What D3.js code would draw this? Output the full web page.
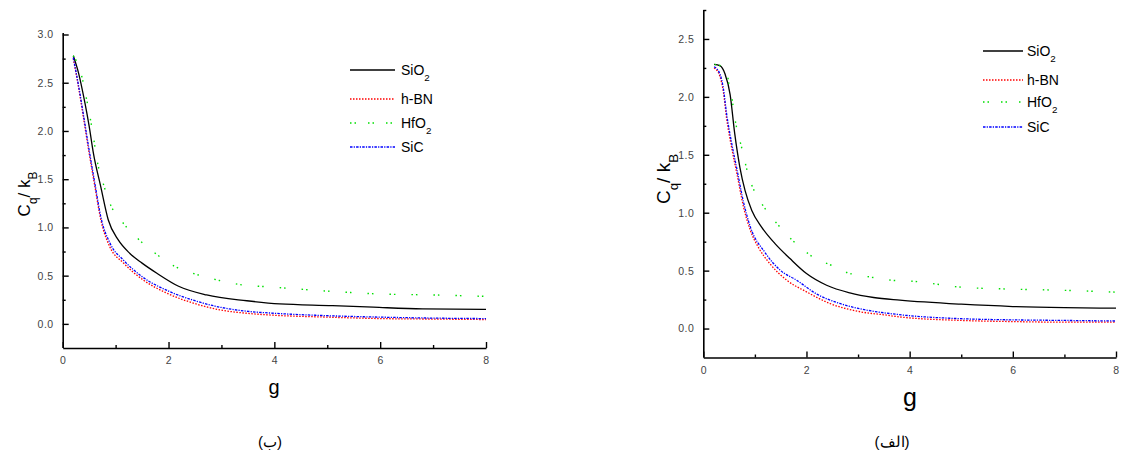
<!DOCTYPE html>
<html>
<head>
<meta charset="utf-8">
<script src="https://cdn.jsdelivr.net/npm/d3@7"></script>
<style>
  html, body { margin: 0; padding: 0; background: #fff; }
  svg { display: block; }
  text { font-family: "Liberation Sans", Arial, sans-serif; }
</style>
</head>
<body>
<svg id="chart" width="1121" height="457"></svg>
<script>
// ---------- DATA ----------
const seriesNames = ["SiO2", "h-BN", "HfO2", "SiC"];
const xTicksMajor = [0, 2, 4, 6, 8];
const xTicksMinor = [1, 3, 5, 7];
const yTicksLeft = [0.0, 0.5, 1.0, 1.5, 2.0, 2.5, 3.0];
const yTicksRight = [0.0, 0.5, 1.0, 1.5, 2.0, 2.5];
const captions = ["(ب)", "(الف)"];

// Left panel (ب)
const leftSiO2 = [[0.2,2.78],[0.3,2.6],[0.42,2.29],[0.5,2.05],[0.58,1.77],[0.72,1.42],[0.86,1.08],[1.05,0.87],[1.27,0.73],[1.5,0.63],[1.78,0.525],[2.19,0.39],[2.72,0.30],[3.48,0.24],[4.1,0.207],[5.1,0.19],[5.87,0.173],[6.8,0.155],[8.0,0.15]];
const leftHBN = [[0.2,2.75],[0.3,2.45],[0.4,2.11],[0.5,1.77],[0.61,1.42],[0.72,1.08],[0.89,0.80],[1.15,0.63],[1.52,0.456],[1.97,0.318],[2.47,0.215],[2.97,0.145],[3.48,0.11],[3.98,0.09],[5,0.07],[6,0.055],[7,0.05],[8,0.045]];
const leftHfO2 = [[0.2,2.78],[0.34,2.61],[0.44,2.36],[0.55,2.04],[0.67,1.64],[0.78,1.43],[0.87,1.28],[1.15,1.04],[1.39,0.90],[1.73,0.74],[2.14,0.59],[2.46,0.525],[2.96,0.45],[3.32,0.41],[4.0,0.38],[5.0,0.34],[6.0,0.31],[7.0,0.30],[8.0,0.285]];
const leftSiC = [[0.2,2.76],[0.3,2.47],[0.4,2.14],[0.5,1.8],[0.61,1.45],[0.72,1.11],[0.9,0.83],[1.15,0.66],[1.5,0.49],[2.0,0.34],[2.5,0.24],[3.0,0.17],[3.5,0.13],[4.0,0.11],[5,0.085],[6,0.07],[7,0.06],[8,0.055]];

// Right panel (الف)
const rightSiO2 = [[0.21,2.28],[0.32,2.27],[0.42,2.2],[0.52,2.02],[0.61,1.68],[0.71,1.39],[0.81,1.19],[0.94,1.02],[1.13,0.876],[1.39,0.733],[1.68,0.604],[2.0,0.475],[2.39,0.374],[2.84,0.308],[3.3,0.268],[3.81,0.245],[5,0.21],[6,0.19],[7,0.18],[8,0.176]];
const rightHBN = [[0.21,2.25],[0.32,2.18],[0.39,2.04],[0.45,1.82],[0.55,1.56],[0.65,1.34],[0.78,1.05],[0.91,0.85],[1.07,0.70],[1.29,0.56],[1.62,0.417],[2.0,0.317],[2.45,0.217],[3.04,0.145],[3.55,0.116],[3.81,0.10],[5,0.07],[6,0.06],[7,0.055],[8,0.055]];
const rightHfO2 = [[0.22,2.28],[0.44,2.25],[0.5,2.10],[0.56,1.97],[0.61,1.82],[0.75,1.55],[0.89,1.30],[1.02,1.16],[1.13,1.08],[1.56,0.84],[1.74,0.756],[1.85,0.713],[2.23,0.59],[2.42,0.558],[2.78,0.484],[3.22,0.446],[3.7,0.415],[4.0,0.41],[5,0.357],[6,0.34],[7,0.33],[8,0.314]];
const rightSiC = [[0.21,2.26],[0.32,2.2],[0.39,2.07],[0.45,1.86],[0.55,1.6],[0.65,1.38],[0.78,1.09],[0.91,0.88],[1.19,0.66],[1.5,0.5],[1.81,0.417],[2.19,0.30],[2.64,0.217],[3.16,0.16],[3.8,0.12],[5,0.085],[6,0.075],[7,0.07],[8,0.065]];

// ---------- STYLES ----------
const styles = {
  "SiO2": { color: "#000000", dash: null, width: 1.3 },
  "h-BN": { color: "#ff0000", dash: "1.5 1.5", width: 1.3 },
  "HfO2": { color: "#00e000", dash: "1.5 3 1.5 16", width: 1.4 },
  "SiC":  { color: "#0000ff", dash: "2.5 1.2 1.2 1.2", width: 1.3 }
};

const panels = [
  {
    caption: captions[0],
    series: [leftSiO2, leftHBN, leftHfO2, leftSiC],
    yDomain: [-0.25, 3.0], yTicks: yTicksLeft,
    xRange: [62.7, 486], yRange: [348, 34.5], axisTop: 33,
    legendX: [350, 395, 401], legendY: [70, 99, 123, 147],
    yTitle: { x: 30, y: 194, size: 17 },
    xTitle: { x: 274, y: 394, size: 20 },
    capX: 270
  },
  {
    caption: captions[1],
    series: [rightSiO2, rightHBN, rightHfO2, rightSiC],
    yDomain: [-0.25, 2.75], yTicks: yTicksRight,
    xRange: [703.3, 1116], yRange: [357.5, 10], axisTop: 10,
    legendX: [983, 1023, 1027], legendY: [51, 80, 102, 127],
    yTitle: { x: 670, y: 179, size: 19 },
    xTitle: { x: 910, y: 406, size: 25 },
    capX: 892
  }
];

const svg = d3.select("#chart");

function subText(sel, main, sub, rest, rest2) {
  sel.append("tspan").text(main);
  sel.append("tspan").attr("baseline-shift", "sub").attr("font-size", "0.7em").text(sub);
  if (rest) {
    sel.append("tspan").text(rest);
  }
  if (rest2) {
    sel.append("tspan").attr("baseline-shift", "sub").attr("font-size", "0.7em").text(rest2);
  }
}

panels.forEach(p => {
  const g = svg.append("g");
  const x = d3.scaleLinear().domain([0, 8]).range(p.xRange);
  const y = d3.scaleLinear().domain(p.yDomain).range(p.yRange);

  // X axis major
  const xAxis = g.append("g").attr("transform", `translate(0,${p.yRange[0]})`)
    .call(d3.axisBottom(x).tickValues(xTicksMajor).tickFormat(d3.format("d"))
      .tickSizeInner(-6).tickSizeOuter(0).tickPadding(9));
  g.append("g").attr("transform", `translate(0,${p.yRange[0]})`)
    .call(d3.axisBottom(x).tickValues(xTicksMinor).tickFormat("")
      .tickSizeInner(-3).tickSizeOuter(0))
    .select(".domain").remove();

  // Y axis major
  const yAxis = g.append("g").attr("transform", `translate(${p.xRange[0]},0)`)
    .call(d3.axisLeft(y).tickValues(p.yTicks).tickFormat(d3.format(".1f"))
      .tickSizeInner(-6).tickSizeOuter(0).tickPadding(9));
  const minorY = d3.range(-0.25, p.yDomain[1] + 0.001, 0.25).filter(v => Math.abs((v * 2) - Math.round(v * 2)) > 0.01);
  g.append("g").attr("transform", `translate(${p.xRange[0]},0)`)
    .call(d3.axisLeft(y).tickValues(minorY.filter(v => v > -0.2)).tickFormat("")
      .tickSizeInner(-3).tickSizeOuter(0))
    .select(".domain").remove();

  // extend y axis line to top
  yAxis.select(".domain").attr("d", `M0.5,${p.yRange[0]}V${p.axisTop}`);

  [xAxis, yAxis].forEach(a => {
    a.select(".domain").attr("stroke", "#000").attr("stroke-width", 1.6);
    a.selectAll(".tick line").attr("stroke", "#000").attr("stroke-width", 1.4);
    a.selectAll(".tick text").attr("font-size", 10.5).attr("fill", "#444")
      .attr("letter-spacing", 0.5)
      .attr("font-family", "Liberation Sans, Arial, sans-serif");
  });
  svg.selectAll(".tick line").attr("stroke-width", 1.4);

  // Lines
  const line = d3.line().x(d => x(d[0])).y(d => y(d[1])).curve(d3.curveMonotoneX);
  p.series.forEach((s, i) => {
    const st = styles[seriesNames[i]];
    g.append("path").datum(s).attr("d", line)
      .attr("fill", "none").attr("stroke", st.color)
      .attr("stroke-width", st.width)
      .attr("stroke-dasharray", st.dash);
  });

  // Legend
  seriesNames.forEach((name, i) => {
    const st = styles[name];
    const ly = p.legendY[i];
    g.append("line").attr("x1", p.legendX[0]).attr("x2", p.legendX[1])
      .attr("y1", ly).attr("y2", ly)
      .attr("stroke", st.color).attr("stroke-width", st.width)
      .attr("stroke-dasharray", name === "HfO2" ? "1.5 3 1.5 12" : st.dash);
    const t = g.append("text").attr("x", p.legendX[2]).attr("y", ly + 5)
      .attr("font-size", 14).attr("fill", "#000");
    if (name === "SiO2") subText(t, "SiO", "2");
    else if (name === "HfO2") subText(t, "HfO", "2");
    else t.text(name);
  });

  // Y title
  const yt = g.append("text")
    .attr("transform", `translate(${p.yTitle.x},${p.yTitle.y}) rotate(-90)`)
    .attr("text-anchor", "middle").attr("font-size", p.yTitle.size).attr("fill", "#000");
  subText(yt, "C", "q", "/ k", "B");

  // X title
  g.append("text").attr("x", p.xTitle.x).attr("y", p.xTitle.y)
    .attr("text-anchor", "middle").attr("font-size", p.xTitle.size).attr("fill", "#000").text("g");

  // Caption
  g.append("text").attr("x", p.capX).attr("y", 447)
    .attr("text-anchor", "middle").attr("font-size", 15)
    .attr("font-family", "DejaVu Serif, Liberation Serif, serif")
    .attr("fill", "#000").text(p.caption);
});
</script>
</body>
</html>
